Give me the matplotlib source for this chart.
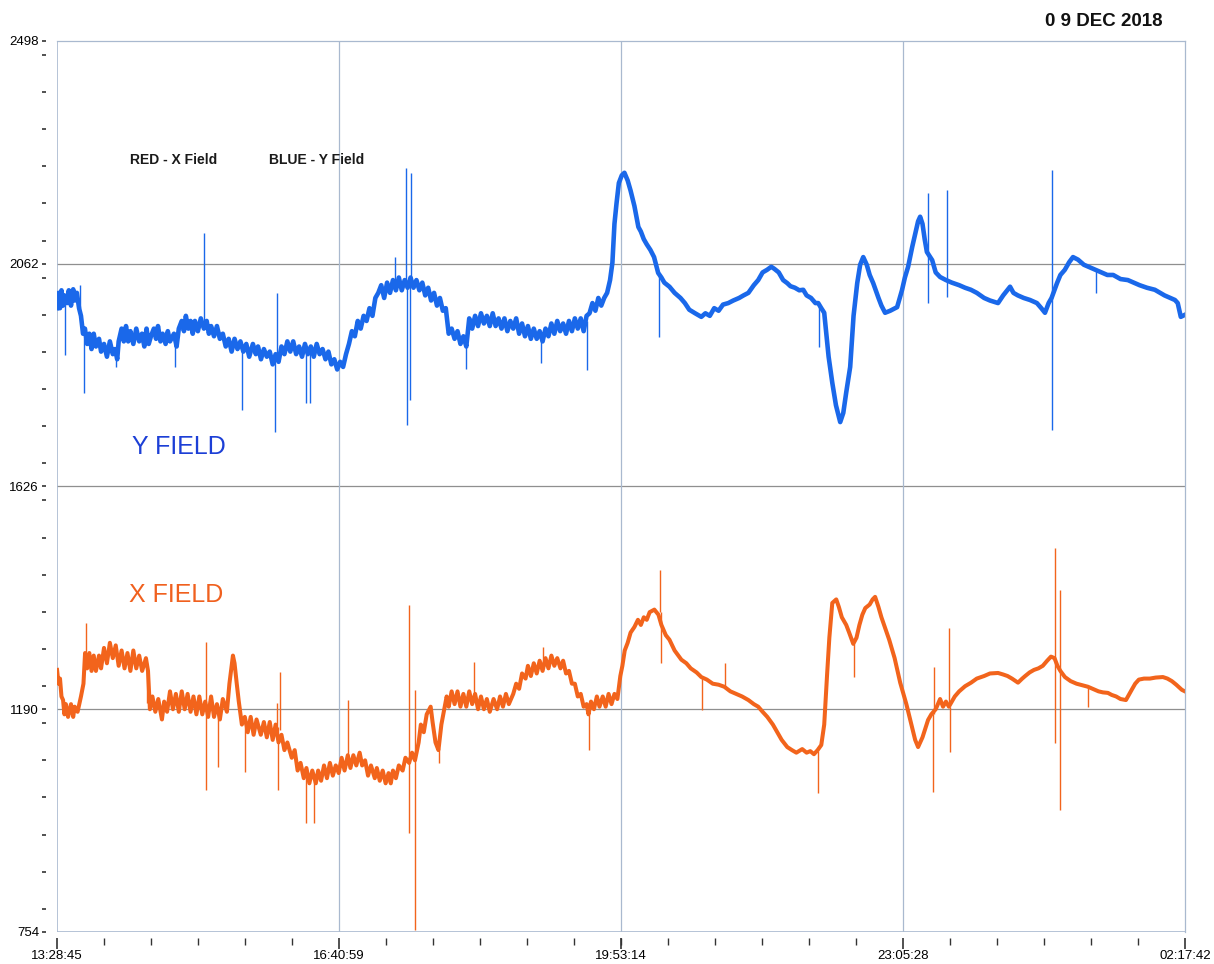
"""
plot.py - magnetometer X / Y field trace, 09 Dec 2018.
"""

import matplotlib

matplotlib.use("Agg")
import matplotlib.pyplot as plt
import numpy as np
from matplotlib.ticker import FixedLocator, MultipleLocator

# time axis labels (clock time, wraps past midnight)
TIME_LABELS = ["13:28:45", "16:40:59", "19:53:14", "23:05:28", "02:17:42"]
VALUE_TICKS = [754, 1190, 1626, 2062, 2498]

# Y field (blue) trace: minutes since 13:28:45, reading (band read as high/low)
y_min = [
    0, 1, 2, 3, 4.1, 5, 6.8, 8, 9.5, 11, 12, 13.5, 15, 16.3, 17.7, 19, 20.5, 22,
    23.5, 25, 26.5, 28.6, 30, 32, 34, 36, 38, 39.5, 41, 42, 44, 45.5, 47, 48.5,
    50, 52, 54, 56, 57.9, 59.5, 61, 62.5, 64, 66, 67.5, 68.8, 70.5, 72, 74, 75.5,
    77, 79.7, 81.5, 83, 85, 86.5, 87.8, 89.5, 91, 92.5, 94, 96, 98, 100.1, 102,
    103.5, 105, 107, 109, 111, 113, 115, 117, 119, 121, 123, 125, 127, 129, 131,
    133.5, 135.5, 137, 139, 141, 143, 145, 147, 149, 151, 153, 155, 157, 159, 161,
    163, 165, 167, 169, 171, 173, 175, 177, 179, 181, 183, 185, 187, 189, 191,
    193, 195, 197, 199, 201, 203, 205, 207, 209, 211, 213, 215, 217, 219, 221,
    223, 225, 227, 229, 231, 233, 235, 237, 239, 241, 243, 245, 247, 249, 251,
    253, 255, 257, 259, 261, 263, 265, 267, 269, 271, 273, 275, 277, 279, 281,
    283, 285, 287, 289, 291, 293, 295, 297, 299, 301, 303, 305, 307, 309, 311,
    313, 315, 317, 319, 321, 323, 325, 327, 329, 331, 333, 335, 337, 339, 341,
    343, 345, 347, 349, 351, 353, 355, 357, 359, 361, 363, 365, 367, 369, 371,
    373, 375, 377, 378.6, 380, 381.4, 383, 385, 386.8, 389, 391, 393.6, 396.3,
    398, 400, 402, 404.5, 407, 409.8, 412, 414, 417.5, 421, 425, 428, 431, 435,
    439.2, 442, 445, 448, 451, 454, 457.6, 461, 465, 468, 471.3, 475, 478, 481,
    484, 486.9, 489, 492, 495, 497.8, 500, 503, 506, 508.7, 511, 514, 517, 518.9,
    521, 523, 526, 528.5, 531, 533.9, 536, 538, 540.7, 543, 545.5, 547.5, 549.6,
    552, 554, 556.4, 560, 562, 564.5, 568, 572.7, 576, 578, 580.2, 583, 585, 587,
    588.4, 590, 591.5, 593, 596.6, 599, 602, 606, 610, 615, 619, 623, 627, 632,
    636, 641.5, 645, 649.7, 652, 655, 659, 663.3, 668, 671, 673.5, 676, 678,
    681.7, 684, 687, 690, 692.6, 696, 700, 704, 708, 712, 716, 720, 725, 730,
    734, 738, 743, 748.4, 752, 755, 759, 762.1, 764, 766.1, 768.9,
]
y_val = [
    1975, 2005, 1975, 2010, 1980, 2000, 1985, 2010, 1980, 2012, 1990, 2005, 1975,
    1960, 1925, 1935, 1905, 1925, 1895, 1925, 1900, 1915, 1890, 1905, 1880, 1910,
    1885, 1895, 1875, 1910, 1935, 1910, 1940, 1910, 1930, 1905, 1935, 1910, 1925,
    1900, 1935, 1905, 1920, 1935, 1915, 1940, 1910, 1925, 1905, 1930, 1910, 1925,
    1900, 1935, 1950, 1930, 1960, 1935, 1950, 1925, 1950, 1930, 1955, 1935, 1950,
    1925, 1940, 1920, 1940, 1915, 1925, 1900, 1915, 1890, 1915, 1895, 1910, 1890,
    1905, 1880, 1905, 1885, 1900, 1875, 1895, 1880, 1890, 1865, 1885, 1870, 1900,
    1885, 1910, 1890, 1910, 1885, 1900, 1880, 1905, 1885, 1900, 1880, 1905, 1885,
    1895, 1875, 1890, 1865, 1875, 1855, 1870, 1860, 1885, 1905, 1930, 1920, 1950,
    1935, 1960, 1950, 1975, 1960, 1995, 2005, 2020, 1995, 2025, 2005, 2030, 2010,
    2035, 2010, 2030, 2015, 2035, 2015, 2030, 2010, 2025, 2000, 2015, 1990, 2005,
    1980, 1995, 1970, 1975, 1925, 1935, 1915, 1930, 1905, 1920, 1900, 1955, 1935,
    1960, 1940, 1965, 1945, 1960, 1940, 1965, 1940, 1955, 1935, 1955, 1930, 1950,
    1935, 1955, 1925, 1945, 1920, 1940, 1915, 1935, 1915, 1930, 1910, 1935, 1920,
    1945, 1925, 1950, 1930, 1945, 1925, 1950, 1930, 1955, 1935, 1955, 1930, 1960,
    1965, 1985, 1970, 1995, 1980, 1995, 2005, 2030, 2064, 2140, 2180, 2220, 2235,
    2240, 2225, 2205, 2175, 2134, 2125, 2110, 2100, 2089, 2075, 2044, 2035, 2025,
    2017, 2005, 1995, 1985, 1972, 1965, 1958, 1965, 1960, 1975, 1970, 1982, 1985,
    1990, 1995, 2000, 2005, 2020, 2030, 2045, 2050, 2056, 2052, 2045, 2030, 2024,
    2018, 2015, 2010, 2011, 2000, 1995, 1985, 1985, 1975, 1966, 1880, 1829, 1785,
    1752, 1770, 1810, 1860, 1960, 2024, 2060, 2075, 2060, 2040, 2024, 1995, 1980,
    1966, 1970, 1977, 2010, 2035, 2056, 2095, 2120, 2145, 2154, 2140, 2110, 2085,
    2069, 2045, 2036, 2030, 2025, 2020, 2015, 2011, 2005, 1995, 1990, 1985, 2000,
    2017, 2005, 2000, 1995, 1991, 1985, 1975, 1966, 1985, 1995, 2024, 2040, 2050,
    2065, 2075, 2070, 2060, 2055, 2050, 2045, 2040, 2040, 2032, 2030, 2025, 2020,
    2015, 2011, 2005, 2000, 1995, 1991, 1985, 1958, 1962,
]
# Y field spikes: time, low end, high end
y_spike_t = [5.5, 15.5, 18.2, 40, 80.2, 100.5, 126, 148.5, 149.8, 169.6, 172.3,
             230.6, 238.0, 238.4, 240.4, 241, 279, 330, 361.3, 410.2, 519.5,
             593.5, 606.8, 678.0, 708.3]
y_spike_lo = [1883, 1975, 1809, 1860, 1860, 1935, 1776, 1733, 1880, 1790, 1790,
              2011, 2020, 1747, 1795, 2025, 1856, 1868, 1854, 1919, 1899,
              1985, 1997, 1737, 2005]
y_spike_hi = [1990, 2020, 1930, 1890, 1920, 2122, 1900, 1880, 2005, 1895, 1900,
              2075, 2250, 2020, 2030, 2240, 1910, 1925, 1950, 2044, 1985,
              2201, 2206, 2246, 2050]

# X field (orange) trace: minutes since 13:28:45, reading
x_min = [
    0, 1, 2, 3, 4.1, 5, 6, 7.5, 9.5, 11, 12, 14, 16.3, 18, 19.1, 20.5, 22, 23.5,
    25, 26.5, 28.6, 30, 32, 34, 36, 38, 40, 42, 44, 46, 48, 50, 52, 54, 56, 58,
    60.6, 62, 63.3, 65, 67, 69, 71.5, 73, 75, 77, 79, 81, 83, 85, 87, 89, 91, 93,
    95, 97, 99, 101, 103, 105, 107, 109, 111, 113, 115.8, 117.5, 119.9, 121,
    122.5, 123.9, 126, 128, 130, 132, 134, 136, 138.9, 141, 143, 145, 147, 149,
    151, 153, 155, 157, 160, 162, 164, 166, 168.2, 170, 172, 174, 176.4, 178, 180,
    182, 184, 186, 188, 190, 192, 194, 196, 198.2, 200, 202, 204, 206.3, 208, 210,
    212, 214, 216.6, 218, 220, 222, 224, 226, 227.5, 229, 231, 233, 235.6, 237.5,
    240, 242, 244, 246.5, 248, 250, 252, 254.7, 256, 258, 260, 262, 264, 265.6,
    267, 269, 271, 273, 275, 277, 279, 281, 283, 285, 287, 289, 291, 293, 295,
    297.6, 300, 302, 304, 306, 308, 311, 313, 315, 317, 319.4, 321, 323, 325, 327,
    329, 331, 333, 335, 337, 339, 341, 343.2, 345, 347, 349, 351, 353, 355, 357,
    359, 361, 362.3, 364, 366, 368, 369.8, 372, 374, 376, 378, 380, 382, 384,
    385.4, 387, 389, 391, 393.6, 396, 398, 400, 402, 404, 407.2, 410, 412, 415,
    417.5, 421, 425.6, 429, 432, 436, 439.2, 443, 447, 451, 454.9, 459, 463, 467,
    471.3, 475, 478, 481, 484.2, 488, 491, 494, 497.8, 501, 504, 508, 511, 513.5,
    516, 518.5, 521, 523, 525, 526.5, 528.5, 531.2, 533, 535, 538, 540, 542.8,
    545, 547, 549, 551, 554, 556, 557.7, 560, 562, 565, 567.3, 571, 574.8, 579,
    582.9, 585, 587, 590, 593.8, 596, 599, 602, 604, 606, 608, 612, 615, 619,
    623.1, 627, 632, 636, 641.5, 645, 648, 651, 655.1, 658, 660, 663, 666, 669,
    672, 675, 677.6, 680, 682, 684, 687.1, 691, 695, 699, 702.8, 706, 710, 713,
    716.4, 719, 722, 725, 728.7, 731, 733, 735, 737.5, 741, 745, 749, 753.9, 757,
    760, 763, 766.8, 768.9,
]
x_val = [
    1267, 1240, 1250, 1215, 1208, 1180, 1200, 1175, 1200, 1175, 1195, 1185, 1215,
    1240, 1300, 1270, 1300, 1265, 1295, 1265, 1295, 1270, 1310, 1280, 1320, 1290,
    1315, 1275, 1305, 1270, 1300, 1265, 1305, 1270, 1295, 1265, 1290, 1265, 1190,
    1215, 1185, 1210, 1170, 1205, 1185, 1225, 1190, 1220, 1185, 1225, 1190, 1220,
    1185, 1215, 1180, 1215, 1180, 1205, 1175, 1215, 1175, 1200, 1170, 1210, 1185,
    1240, 1295, 1280, 1240, 1205, 1160, 1175, 1145, 1175, 1140, 1170, 1140, 1165,
    1135, 1165, 1130, 1160, 1125, 1140, 1110, 1125, 1095, 1110, 1070, 1085, 1055,
    1075, 1045, 1070, 1045, 1070, 1050, 1080, 1055, 1085, 1060, 1080, 1065, 1095,
    1070, 1100, 1075, 1100, 1080, 1105, 1080, 1090, 1060, 1080, 1055, 1075, 1050,
    1070, 1045, 1065, 1045, 1070, 1055, 1080, 1070, 1095, 1085, 1105, 1090, 1125,
    1160, 1145, 1180, 1195, 1165, 1125, 1110, 1160, 1190, 1215, 1195, 1225, 1200,
    1225, 1195, 1220, 1195, 1225, 1200, 1220, 1190, 1215, 1190, 1210, 1185, 1210,
    1190, 1215, 1195, 1220, 1200, 1220, 1240, 1230, 1260, 1250, 1275, 1255, 1280,
    1260, 1285, 1265, 1290, 1270, 1295, 1275, 1290, 1270, 1285, 1260, 1265, 1240,
    1240, 1215, 1220, 1195, 1200, 1180, 1205, 1190, 1215, 1195, 1215, 1195, 1220,
    1200, 1220, 1210, 1255, 1275, 1305, 1320, 1340, 1351, 1365, 1355, 1370, 1365,
    1380, 1385, 1375, 1355, 1335, 1326, 1305, 1287, 1280, 1270, 1262, 1253, 1248,
    1240, 1238, 1234, 1225, 1220, 1215, 1208, 1200, 1195, 1185, 1175, 1160, 1145,
    1130, 1116, 1110, 1105, 1112, 1105, 1108, 1102, 1110, 1120, 1160, 1260, 1330,
    1398, 1405, 1390, 1370, 1355, 1340, 1318, 1330, 1355, 1375, 1388, 1395, 1405,
    1410, 1390, 1370, 1345, 1326, 1290, 1242, 1200, 1155, 1130, 1116, 1135, 1169,
    1180, 1190, 1210, 1195, 1205, 1195, 1215, 1225, 1235, 1242, 1250, 1255, 1260,
    1261, 1258, 1255, 1250, 1242, 1250, 1255, 1262, 1267, 1270, 1275, 1285, 1293,
    1290, 1275, 1265, 1253, 1245, 1240, 1237, 1234, 1230, 1225, 1223, 1222, 1218,
    1215, 1210, 1208, 1220, 1230, 1240, 1248, 1250, 1250, 1252, 1253, 1250, 1245,
    1238, 1228, 1225,
]
# X field spikes: time, low end, high end
x_spike_t = [19.6, 61, 101.5, 101.8, 109.5, 128.4, 150.2, 150.6, 152, 169.6,
             175, 198.6, 239.7, 240.0, 243.8, 244.1, 260.5, 284.3, 331.3, 362.6,
             411.3, 411.6, 439.5, 455.2, 518.9, 543, 597.3, 597.6, 608.4, 608.7,
             680.2, 680.5, 683.6, 683.9, 703.1]
x_spike_lo = [1290, 1203, 1189, 1032, 1077, 1067, 1155, 1032, 1150, 968,
              968, 1091, 1090, 948, 758, 1090, 1085, 1214, 1273, 1110,
              1380, 1281, 1189, 1234, 1026, 1253, 1028, 1180, 1195, 1107,
              1293, 1124, 1270, 993, 1195]
x_spike_hi = [1359, 1281, 1322, 1189, 1183, 1155, 1203, 1155, 1263, 1065,
              1050, 1208, 1394, 1090, 1090, 1228, 1110, 1283, 1312, 1183,
              1463, 1380, 1253, 1281, 1108, 1318, 1180, 1273, 1349, 1195,
              1506, 1293, 1424, 1270, 1234]

BLUE = "#1a68ea"
ORANGE = "#f2641c"
FONT = ["Liberation Sans", "DejaVu Sans"]


def clock_to_minutes(labels):
    """Minutes since the first label, rolling over midnight."""
    out, prev, day = [], None, 0
    for lbl in labels:
        h, m, s = (int(p) for p in lbl.split(":"))
        mins = h * 60 + m + s / 60
        if prev is not None and mins + day < prev:
            day += 24 * 60
        out.append(mins + day)
        prev = mins + day
    return [v - out[0] for v in out]


time_ticks = clock_to_minutes(TIME_LABELS)

fig = plt.figure(figsize=(12.14, 9.64), dpi=100)
ax = fig.add_axes([0.047, 0.0332, 0.9291, 0.9243])

ax.plot(y_min, y_val, color=BLUE, lw=3.3)
ax.vlines(y_spike_t, y_spike_lo, y_spike_hi, color=BLUE, lw=1.0)
ax.plot(x_min, x_val, color=ORANGE, lw=2.9)
ax.vlines(x_spike_t, x_spike_lo, x_spike_hi, color=ORANGE, lw=1.0)

ax.set_xlim(time_ticks[0], time_ticks[-1])
ax.set_ylim(VALUE_TICKS[0], VALUE_TICKS[-1])

# grid only at labelled positions
for v in VALUE_TICKS[1:-1]:
    ax.axhline(v, color="#8f8f8f", lw=0.9, zorder=0)
for t in time_ticks[1:-1]:
    ax.axvline(t, color="#a9b9cf", lw=0.9, zorder=0)

# frame: left/bottom spines pushed outward to carry the ticks, edges drawn separately
for side in ("top", "right"):
    ax.spines[side].set_color("#a9b9cf")
    ax.spines[side].set_linewidth(0.9)
ax.spines["left"].set_position(("outward", 8))
ax.spines["bottom"].set_position(("outward", 4))
for side in ("left", "bottom"):
    ax.spines[side].set_visible(False)
ax.axvline(time_ticks[0], color="#a9b9cf", lw=1.2, zorder=0)
ax.axhline(VALUE_TICKS[0], color="#a9b9cf", lw=1.2, zorder=0)

ax.yaxis.set_major_locator(FixedLocator(VALUE_TICKS))
ax.yaxis.set_minor_locator(MultipleLocator((VALUE_TICKS[1] - VALUE_TICKS[0]) / 6))
ax.set_yticklabels([str(v) for v in VALUE_TICKS], fontfamily=FONT, fontsize=9.5)
ax.xaxis.set_major_locator(FixedLocator(time_ticks))
ax.xaxis.set_minor_locator(FixedLocator(
    np.linspace(time_ticks[0], time_ticks[-1], 6 * (len(time_ticks) - 1) + 1)))
ax.set_xticklabels(TIME_LABELS, fontfamily=FONT, fontsize=9.5)
ax.tick_params(axis="y", which="both", length=3, width=1.2, color="#333333", pad=2)
ax.tick_params(axis="x", which="major", length=8, width=1.2, color="#333333", pad=1)
ax.tick_params(axis="x", which="minor", length=5, width=1.0, color="#333333")

# annotations
ax.text(0.065, 0.862, "RED - X Field", transform=ax.transAxes, fontsize=10,
        fontweight="bold", fontfamily=FONT, color="#1a1a1a")
ax.text(0.188, 0.862, "BLUE - Y Field", transform=ax.transAxes, fontsize=10,
        fontweight="bold", fontfamily=FONT, color="#1a1a1a")
ax.text(0.066, 0.537, "Y FIELD", transform=ax.transAxes, fontsize=18,
        fontfamily=FONT, color="#1c3fd6")
ax.text(0.064, 0.370, "X FIELD", transform=ax.transAxes, fontsize=18,
        fontfamily=FONT, color="#f0601e")
fig.text(0.958, 0.978, "0 9 DEC 2018", ha="right", va="center", fontsize=13.5,
         fontweight="bold", fontfamily=FONT, color="#111111")

fig.savefig("out.png", dpi=100)
